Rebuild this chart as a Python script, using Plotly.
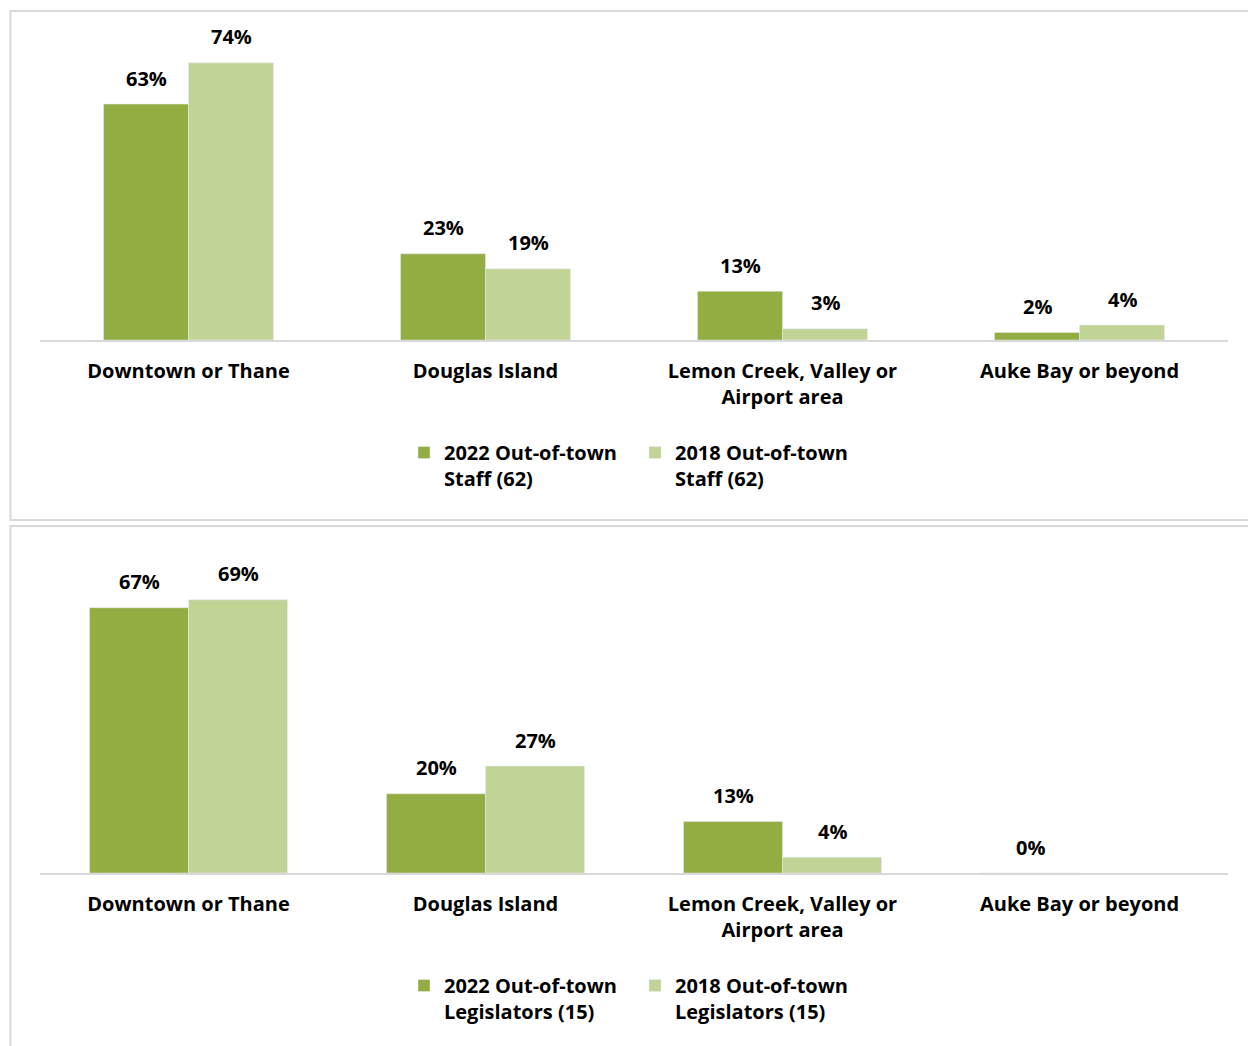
import plotly.graph_objects as go

categories = ["Downtown or Thane", "Douglas Island", "Lemon Creek, Valley or<br>Airport area", "Auke Bay or beyond"]

staff_2022 = [63, 23, 13, 2]
staff_2018 = [74, 19, 3, 4]
leg_2022 = [67, 20, 13, 0]
leg_2018 = [69, 27, 4, None]

staff_names = ["2022 Out-of-town<br>Staff (62)", "2018 Out-of-town<br>Staff (62)"]
leg_names = ["2022 Out-of-town<br>Legislators (15)", "2018 Out-of-town<br>Legislators (15)"]

DARK = "#93AD42"
LIGHT = "#C1D496"
FONT = "Open Sans"
W, H = 1248, 1046

def py(px):
    return 1 - px / H

fig = go.Figure()
xidx = list(range(len(categories)))

# top panel bars
bw_top = 85 / 297
fig.add_trace(go.Bar(x=xidx, y=staff_2022, name=staff_names[0], marker_color=DARK,
                     width=bw_top, offset=-bw_top, xaxis="x", yaxis="y", legend="legend"))
fig.add_trace(go.Bar(x=xidx, y=staff_2018, name=staff_names[1], marker_color=LIGHT,
                     width=bw_top, offset=0, xaxis="x", yaxis="y", legend="legend"))
# bottom panel bars
bw_bot = 99 / 297
fig.add_trace(go.Bar(x=xidx, y=leg_2022, name=leg_names[0], marker_color=DARK,
                     width=bw_bot, offset=-bw_bot, xaxis="x2", yaxis="y2", legend="legend2"))
fig.add_trace(go.Bar(x=xidx, y=leg_2018, name=leg_names[1], marker_color=LIGHT,
                     width=bw_bot, offset=0, xaxis="x2", yaxis="y2", legend="legend2"))

bold_font = dict(family=FONT, size=20, color="#000000", weight="bold")

annotations = []
def add_labels(vals, shift, xref, yref):
    for i, v in enumerate(vals):
        if v is None:
            continue
        annotations.append(dict(x=i + shift, y=v, xref=xref, yref=yref, text=f"{v}%",
                                showarrow=False, yanchor="middle", yshift=26,
                                font=bold_font))

add_labels(staff_2022, -bw_top / 2, "x", "y")
add_labels(staff_2018, bw_top / 2, "x", "y")
add_labels(leg_2022, -bw_bot / 2, "x2", "y2")
add_labels(leg_2018, bw_bot / 2, "x2", "y2")

xdom = [40 / W, 1228 / W]
axis_common = dict(tickmode="array", tickvals=xidx, ticktext=categories, range=[-0.5, 3.5],
                   showline=True, linecolor="#D9D9D9", linewidth=2, showgrid=False,
                   zeroline=False, ticks="", ticklabelstandoff=12,
                   tickfont=bold_font, fixedrange=True)
yaxis_common = dict(showgrid=False, zeroline=False, showticklabels=False, showline=False,
                    fixedrange=True)

shapes = [
    dict(type="rect", xref="paper", yref="paper", x0=10.5 / W, x1=1.05, y0=py(520), y1=py(11),
         line=dict(color="#D9D9D9", width=2), fillcolor="rgba(0,0,0,0)", layer="below"),
    dict(type="rect", xref="paper", yref="paper", x0=10.5 / W, x1=1.05, y0=-0.05, y1=py(526),
         line=dict(color="#D9D9D9", width=2), fillcolor="rgba(0,0,0,0)", layer="below"),
]

legend_common = dict(orientation="h", xanchor="left", yanchor="top", valign="top",
                     font=bold_font,
                     bgcolor="rgba(0,0,0,0)", itemclick=False, itemdoubleclick=False,
                     tracegroupgap=0, entrywidth=186)

fig.update_layout(
    width=W, height=H, margin=dict(l=0, r=0, t=0, b=0),
    paper_bgcolor="white", plot_bgcolor="white", barmode="overlay",
    xaxis=dict(domain=xdom, anchor="y", **axis_common),
    yaxis=dict(domain=[py(340), py(20)], range=[0, 320 / 3.745], anchor="x", **yaxis_common),
    xaxis2=dict(domain=xdom, anchor="y2", **axis_common),
    yaxis2=dict(domain=[py(873), py(540)], range=[0, 333 / 3.96], anchor="x2", **yaxis_common),
    legend=dict(x=404 / W, y=py(433), **legend_common),
    legend2=dict(x=404 / W, y=py(966), **legend_common),
    annotations=annotations, shapes=shapes, showlegend=True,
)

fig.write_html("out.html")
